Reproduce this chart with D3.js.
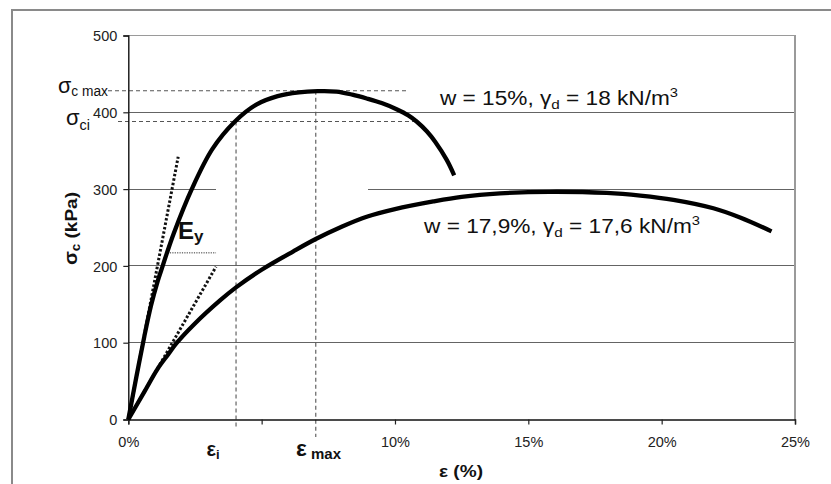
<!DOCTYPE html>
<html>
<head>
<meta charset="utf-8">
<script src="https://cdn.jsdelivr.net/npm/d3@7"></script>
<style>
  html, body { margin: 0; padding: 0; background: #fff; }
  svg { display: block; font-family: "Liberation Sans", Arial, sans-serif; }
</style>
</head>
<body>
<svg id="chart" width="831" height="484"></svg>
<script>
// Unconfined compression tests: axial stress vs axial strain
const strainTicks = [0, 5, 10, 15, 20, 25];
const strainTickLabels = ["0%", "", "10%", "15%", "20%", "25%"];
const stressTicks = [0, 100, 200, 300, 400, 500];

// w = 15 %, gamma_d = 18 kN/m3  (strain %, stress kPa)
const curveDryStrain = [0, 0.3, 0.6, 0.85, 1.1, 1.29, 1.44, 1.7, 2.38, 3.15, 4.0, 4.8, 5.6, 6.4, 7.1, 7.8, 8.4, 8.94, 9.5, 10.06, 10.5, 10.81, 11.2, 11.5, 11.94, 12.22];
const curveDryStress = [0, 55, 108, 148, 180, 200, 216, 242, 300, 352, 388, 410, 421, 426, 427.5, 427, 423, 418, 412, 404, 396, 388, 375, 362, 338, 318];

// w = 17.9 %, gamma_d = 17.6 kN/m3
const curveWetStrain = [0, 0.6, 1.1, 1.5, 1.8, 2.5, 3.44, 4.04, 5.0, 6.19, 7.03, 8.0, 8.94, 10.0, 11.44, 12.5, 13.94, 15.8, 17.94, 19.2, 20.44, 21.94, 22.94, 24.12];
const curveWetStress = [0, 36, 66, 85, 99, 125, 155, 172, 195, 219, 235, 251, 264, 274, 284, 290, 294.5, 296.5, 295, 291.5, 286, 275, 263, 245];

// initial tangents (modulus construction)
const tangentSteepStrain = [0, 1.87];
const tangentSteepStress = [0, 342];
const tangentFlatStrain = [0, 3.29];
const tangentFlatStress = [0, 199];
const modulusMarkStrain = [1.56, 3.29];
const modulusMarkStress = [217, 217];

// characteristic points
const sigmaCMax = 428;
const sigmaCi = 388;
const epsI = 4.04;
const epsMax = 7.03;

const svg = d3.select("#chart");

// outer frame
svg.append("rect")
  .attr("x", 12).attr("y", 10)
  .attr("width", 840).attr("height", 500)
  .attr("fill", "#fff").attr("stroke", "#8a8a8a").attr("stroke-width", 2);

const x = d3.scaleLinear().domain([0, 25]).range([128.3, 795]);
const y = d3.scaleLinear().domain([0, 500]).range([419.5, 35.5]);

const zip = (a, b) => a.map((v, i) => [v, b[i]]);

// gridlines
const grid = svg.append("g").attr("stroke", "#646464").attr("stroke-width", 1).attr("shape-rendering", "crispEdges");
[100, 200, 400].forEach(v => {
  grid.append("line").attr("x1", x(0)).attr("x2", x(25)).attr("y1", y(v)).attr("y2", y(v));
});
// 300 line is interrupted by the modulus label box
grid.append("line").attr("x1", x(0)).attr("x2", x(3.28)).attr("y1", y(300)).attr("y2", y(300));
grid.append("line").attr("x1", x(9.0)).attr("x2", x(25)).attr("y1", y(300)).attr("y2", y(300));

// plot area border (top and right)
svg.append("path")
  .attr("d", `M${x(0)},${y(500)}H${x(25)}V${y(0)}`)
  .attr("fill", "none").attr("stroke", "#9a9a9a").attr("stroke-width", 1.2)
  .attr("shape-rendering", "crispEdges");

// reference dashed lines
const ref = svg.append("g").attr("stroke", "#555").attr("stroke-width", 1.1).attr("stroke-dasharray", "4,3").attr("fill", "none");
ref.append("line").attr("x1", 108).attr("x2", 406.5).attr("y1", y(sigmaCMax)).attr("y2", y(sigmaCMax));
ref.append("line").attr("x1", 118).attr("x2", 416.5).attr("y1", y(sigmaCi)).attr("y2", y(sigmaCi));
ref.append("line").attr("x1", x(epsI)).attr("x2", x(epsI)).attr("y1", y(sigmaCi)).attr("y2", 428);
ref.append("line").attr("x1", x(epsMax)).attr("x2", x(epsMax)).attr("y1", y(sigmaCMax)).attr("y2", 437);

// axes
const yAxis = d3.axisLeft(y).tickValues(stressTicks).tickSize(5).tickPadding(6).tickFormat(d3.format("d"));
const gy = svg.append("g").attr("transform", `translate(${x(0)},0)`).call(yAxis);
const xAxis = d3.axisBottom(x).tickValues(strainTicks).tickSize(5).tickPadding(12)
  .tickFormat((d, i) => strainTickLabels[i]);
const gx = svg.append("g").attr("transform", `translate(0,${y(0)})`).call(xAxis);
[gx, gy].forEach(g => {
  g.select(".domain").attr("stroke", "#111").attr("stroke-width", 1.4);
  g.selectAll(".tick line").attr("stroke", "#222").attr("stroke-width", 1.2);
  g.selectAll(".tick text").attr("fill", "#222").attr("font-size", 14.5)
    .attr("font-family", "'Liberation Sans', Arial, sans-serif");
});
gy.selectAll(".tick text").attr("dy", "0.36em");
gx.selectAll(".tick text").attr("dy", "0.71em");

// curves
const line = d3.line().x(d => x(d[0])).y(d => y(d[1])).curve(d3.curveCatmullRom.alpha(0.5));
const straight = d3.line().x(d => x(d[0])).y(d => y(d[1]));

svg.append("path").datum(zip(tangentSteepStrain, tangentSteepStress))
  .attr("d", straight).attr("fill", "none").attr("stroke", "#111")
  .attr("stroke-width", 3).attr("stroke-dasharray", "2.5,2");
svg.append("path").datum(zip(tangentFlatStrain, tangentFlatStress))
  .attr("d", straight).attr("fill", "none").attr("stroke", "#111")
  .attr("stroke-width", 3).attr("stroke-dasharray", "2.5,2");
svg.append("path").datum(zip(modulusMarkStrain, modulusMarkStress))
  .attr("d", straight).attr("fill", "none").attr("stroke", "#333")
  .attr("stroke-width", 1).attr("stroke-dasharray", "1.2,1.2");

svg.append("path").datum(zip(curveWetStrain, curveWetStress))
  .attr("d", line).attr("fill", "none").attr("stroke", "#000")
  .attr("stroke-width", 4.3).attr("stroke-linecap", "butt");
svg.append("path").datum(zip(curveDryStrain, curveDryStress))
  .attr("d", line).attr("fill", "none").attr("stroke", "#000")
  .attr("stroke-width", 4.3).attr("stroke-linecap", "butt");

// rich text helper: parts = [text, size, shift, bold]
function rich(g, xPos, yPos, parts, opts = {}) {
  const t = g.append("text").attr("x", xPos).attr("y", yPos).attr("fill", opts.fill || "#111");
  if (opts.anchor) t.attr("text-anchor", opts.anchor);
  if (opts.length) t.attr("textLength", opts.length).attr("lengthAdjust", "spacingAndGlyphs");
  if (opts.transform) t.attr("transform", opts.transform);
  let prev = 0;
  parts.forEach(([txt, size, shift, bold]) => {
    t.append("tspan").text(txt)
      .attr("font-size", size)
      .attr("font-weight", bold ? "bold" : "normal")
      .attr("dy", shift - prev);
    prev = shift;
  });
  return t;
}

const labels = svg.append("g");

// series labels
rich(labels, 440, 105, [
  ["w = 15%, γ", 20, 0], ["d", 13.5, 4], [" = 18 kN/m", 20, 0], ["3", 13, -8]
], { length: 238 });
rich(labels, 424, 233, [
  ["w = 17,9%, γ", 20, 0], ["d", 13.5, 4], [" = 17,6 kN/m", 20, 0], ["3", 13, -8]
], { length: 276 });

// stress markers on the left
rich(labels, 58, 92.5, [["σ", 22, 0], ["c max", 14, 3]], { length: 50 });
rich(labels, 66, 125, [["σ", 22, 0], ["ci", 14.5, 5]], { length: 24 });

// modulus label
rich(labels, 178, 239.3, [["E", 24, 0, true], ["y", 17, 3, true]]);

// strain markers below the axis
rich(labels, 206.5, 456, [["ε", 20, 0, true], ["i", 13, 3, true]]);
rich(labels, 296, 456, [["ε", 22, 0, true], [" max", 14.5, 3, true]], { length: 45 });

// axis titles
rich(labels, 461, 477, [["ε (%)", 17, 0, true]], { anchor: "middle", length: 44 });
rich(labels, 0, 0, [["σ", 18, 0, true], ["c", 12, 3, true], [" (kPa)", 17, 0, true]],
  { anchor: "middle", length: 73, transform: "translate(77,228.5) rotate(-90)" });
</script>
</body>
</html>
